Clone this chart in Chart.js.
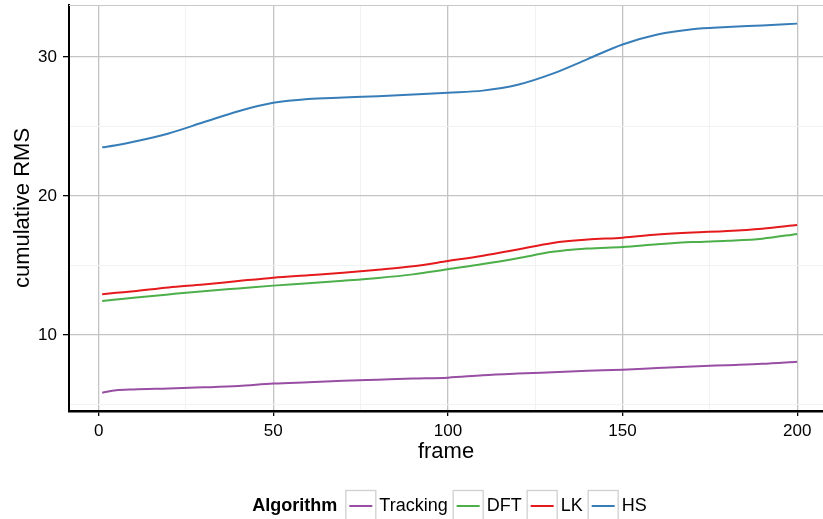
<!DOCTYPE html>
<html>
<script src="https://cdn.jsdelivr.net/npm/chart.js@4.4.0/dist/chart.umd.min.js"></script>
<body style="margin:0;background:#fff">

<canvas id="rmsChart" width="823" height="519"></canvas>

<script>
// frames sampled along each run
var frames = [1, 5, 10, 20, 30, 40, 50, 60, 70, 80, 90, 100, 110, 120, 130, 140, 150, 160, 170, 180, 190, 200];

var algorithms = ["Tracking", "DFT", "LK", "HS"];
var lineColors = ["#984EA3", "#4DAF4A", "#E41A1C", "#377EB8"];

var trackingRms = [5.85, 6.02, 6.08, 6.15, 6.23, 6.33, 6.5, 6.6, 6.7, 6.78, 6.86, 6.93, 7.1, 7.22, 7.32, 7.42, 7.5, 7.62, 7.73, 7.83, 7.93, 8.08];
var dftRms = [12.45, 12.55, 12.68, 12.92, 13.15, 13.35, 13.55, 13.72, 13.9, 14.1, 14.36, 14.73, 15.1, 15.52, 15.98, 16.22, 16.33, 16.52, 16.68, 16.78, 16.93, 17.27];
var lkRms = [12.93, 13.03, 13.15, 13.42, 13.63, 13.88, 14.12, 14.3, 14.48, 14.7, 14.95, 15.32, 15.7, 16.15, 16.62, 16.86, 17.0, 17.22, 17.37, 17.48, 17.65, 17.91];
var hsRms = [23.5, 23.65, 23.9, 24.5, 25.3, 26.1, 26.7, 26.98, 27.08, 27.18, 27.3, 27.43, 27.58, 28.0, 28.8, 29.85, 30.9, 31.62, 32.0, 32.15, 32.27, 32.4];

var xTicks = [0, 50, 100, 150, 200];
var yTicks = [10, 20, 30];

var FONT = "'Liberation Sans', Arial, sans-serif";
var series = [trackingRms, dftRms, lkRms, hsRms];

function toPoints(vals) {
  return frames.map(function (f, i) { return {x: f, y: vals[i]}; });
}

var datasets = algorithms.map(function (name, i) {
  return {
    label: name,
    data: toPoints(series[i]),
    borderColor: lineColors[i],
    backgroundColor: lineColors[i],
    borderWidth: 2,
    pointRadius: 0,
    cubicInterpolationMode: 'monotone',
    fill: false
  };
});

function isMajor(list, v) { return list.indexOf(v) !== -1; }

// ggplot-style key row under the plot
var keyLegend = {
  id: 'keyLegend',
  afterDraw: function (chart) {
    var ctx = chart.ctx;
    var cy = 506, boxW = 30;
    ctx.save();
    ctx.textBaseline = 'middle';
    ctx.font = "bold 18px " + FONT;
    var titleW = ctx.measureText("Algorithm").width;
    ctx.font = "18px " + FONT;
    var total = titleW + 8;
    algorithms.forEach(function (a) { total += boxW + 4 + ctx.measureText(a).width + 5; });
    var x = 452 - total / 2;

    ctx.fillStyle = '#000';
    ctx.font = "bold 18px " + FONT;
    ctx.fillText("Algorithm", x, cy);
    x += titleW + 8;
    ctx.font = "18px " + FONT;
    algorithms.forEach(function (a, i) {
      ctx.strokeStyle = '#d0d0d0';
      ctx.lineWidth = 1.3;
      ctx.strokeRect(x + 0.5, 490.5, boxW, 40);
      ctx.strokeStyle = lineColors[i];
      ctx.lineWidth = 2;
      ctx.beginPath();
      ctx.moveTo(x + 4, cy);
      ctx.lineTo(x + boxW - 3, cy);
      ctx.stroke();
      x += boxW + 4;
      ctx.fillStyle = '#000';
      ctx.fillText(a, x, cy);
      x += ctx.measureText(a).width + 5;
    });

    // thin panel edge along the top
    var area = chart.chartArea;
    ctx.strokeStyle = '#c8c8c8';
    ctx.lineWidth = 1;
    ctx.beginPath();
    ctx.moveTo(area.left, area.top + 0.5);
    ctx.lineTo(area.right, area.top + 0.5);
    ctx.stroke();
    ctx.restore();
  }
};

new Chart("rmsChart", {
  type: 'line',
  data: {datasets: datasets},
  plugins: [keyLegend],
  options: {
    responsive: false,
    animation: false,
    layout: {padding: {top: 5, right: 0, bottom: 48, left: 0}},
    plugins: {
      legend: {display: false},
      tooltip: {enabled: false}
    },
    scales: {
      x: {
        type: 'linear',
        min: -8.5,
        max: 207.4,
        afterFit: function (s) { s.height = 60; s.paddingLeft = 0; s.paddingRight = 0; },
        ticks: {
          stepSize: 25,
          includeBounds: false,
          autoSkip: false,
          maxRotation: 0,
          padding: 5,
          color: '#000',
          font: {family: FONT, size: 17},
          callback: function (v) { return isMajor(xTicks, v) ? v : ''; }
        },
        grid: {
          color: function (c) { return isMajor(xTicks, c.tick.value) ? '#c4c4c4' : '#f2f2f2'; },
          lineWidth: function (c) { return isMajor(xTicks, c.tick.value) ? 1.3 : 1; },
          tickColor: function (c) { return isMajor(xTicks, c.tick.value) ? '#000' : 'rgba(0,0,0,0)'; },
          tickLength: 5
        },
        border: {display: true, color: '#000', width: 2.5},
        title: {
          display: true,
          text: 'frame',
          color: '#000',
          font: {family: FONT, size: 22},
          padding: {top: 0, bottom: 6}
        }
      },
      y: {
        min: 4.53,
        max: 33.74,
        afterFit: function (s) { s.width = 69; s.paddingTop = 0; s.paddingBottom = 0; },
        ticks: {
          stepSize: 5,
          includeBounds: false,
          padding: 6,
          color: '#000',
          font: {family: FONT, size: 17},
          callback: function (v) { return isMajor(yTicks, v) ? v : ''; }
        },
        grid: {
          color: function (c) { return isMajor(yTicks, c.tick.value) ? '#c4c4c4' : '#f2f2f2'; },
          lineWidth: function (c) { return isMajor(yTicks, c.tick.value) ? 1.3 : 1; },
          tickColor: function (c) { return isMajor(yTicks, c.tick.value) ? '#000' : 'rgba(0,0,0,0)'; },
          tickLength: 6
        },
        border: {display: true, color: '#000', width: 2},
        title: {
          display: true,
          text: 'cumulative RMS',
          color: '#000',
          font: {family: FONT, size: 22},
          padding: {top: 10, bottom: 0}
        }
      }
    }
  }
});
</script>

</body>
</html>
